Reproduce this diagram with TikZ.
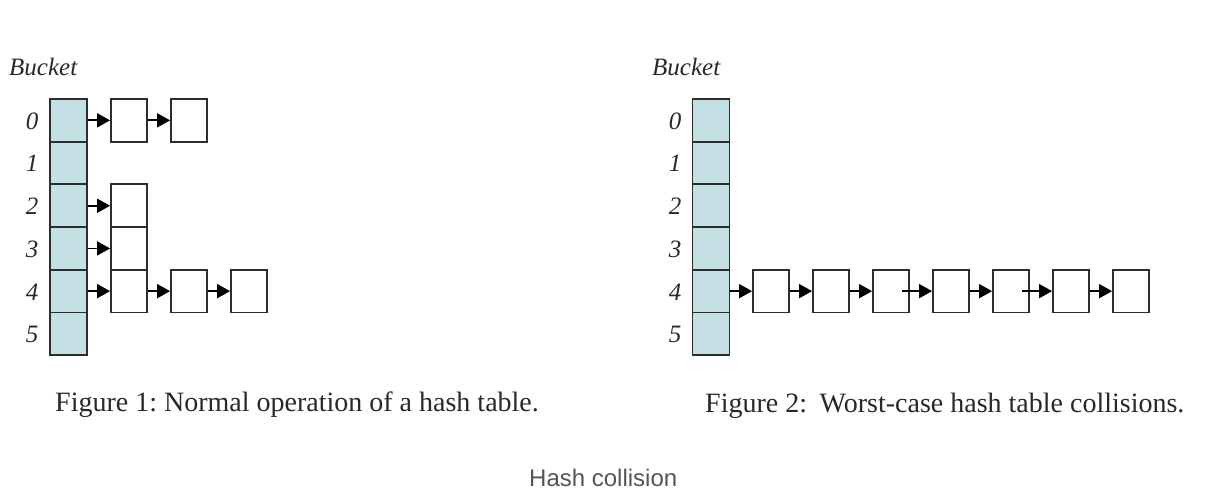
\documentclass[tikz,border=0pt]{standalone}
\usepackage{fontspec}
\setmainfont{Liberation Serif}
\newfontfamily\capsans{Liberation Sans}
\usepackage{xcolor}
\usepackage{tikz}
\usetikzlibrary{positioning,arrows.meta,calc}
\definecolor{bucketfill}{RGB}{196,224,228}
\definecolor{boxline}{RGB}{45,45,45}
\definecolor{captext}{RGB}{40,40,40}
\definecolor{titletext}{RGB}{85,85,85}
\frenchspacing

\begin{document}
\begin{tikzpicture}[x=1pt,y=-1pt]
		\tikzstyle{every node}+=[inner sep=0pt]
		\tikzstyle{slot}=[draw=boxline,line width=1.8pt,fill=bucketfill,minimum width=37pt,minimum height=42.7pt]
		\tikzstyle{entry}=[draw=boxline,line width=1.8pt,fill=white,minimum width=36pt,minimum height=42.7pt]
		\tikzstyle{index}=[font=\itshape\fontsize{25}{25}\selectfont,text=captext]
		\tikzstyle{link}=[draw=black,line width=1.7pt,-{Triangle[length=13pt,width=14pt]}]
		\useasboundingbox (0,0) rectangle (1232,502);
		\node[index,anchor=base west] (bucketL) at (9,76) {Bucket};
		\node[index,anchor=base west] (bucketR) at (652,76) {Bucket};
		\foreach \i in {0,...,5} {
			\node[slot] (L\i) at (68.5,120.35+42.7*\i) {};
			\node[index] (Ln\i) at (32,121+42.7*\i) {\i};
			\node[slot] (R\i) at (711,120.35+42.7*\i) {};
			\node[index] (Rn\i) at (675,121+42.7*\i) {\i};
		}
		\node[entry] (L0a) at (129,120.35) {};
		\node[entry] (L0b) at (189,120.35) {};
		\node[entry] (L2a) at (129,205.75) {};
		\node[entry] (L3a) at (129,248.45) {};
		\node[entry] (L4a) at (129,291.15) {};
		\node[entry] (L4b) at (189,291.15) {};
		\node[entry] (L4c) at (249,291.15) {};
		\draw[link] (L0) -- (L0a);
		\draw[link] (L0a) -- (L0b);
		\draw[link] (L2) -- (L2a);
		\draw[link] (L3) -- (L3a);
		\draw[link] (L4) -- (L4a);
		\draw[link] (L4a) -- (L4b);
		\draw[link] (L4b) -- (L4c);
		\foreach \k in {1,...,7}
			\node[entry] (C\k) at (771+60*\k-60,291.15) {};
		\draw[link] (R4) -- (C1);
		\draw[link] (C1) -- (C2);
		\draw[link] (C2) -- (C3);
		\draw[link] ([xshift=-8pt]C3.east) -- (C4);
		\draw[link] (C4) -- (C5);
		\draw[link] ([xshift=-8pt]C5.east) -- (C6);
		\draw[link] (C6) -- (C7);
		\node[anchor=base west,font=\fontsize{28}{28}\selectfont,text=captext] (cap1) at (55,412) {Figure 1: Normal operation of a hash table.};
		\node[anchor=base west,font=\fontsize{28}{28}\selectfont,text=captext] (cap2) at (705,413) {Figure 2:\hspace{0.45em}Worst-case hash table collisions.};
		\node[anchor=base west,font=\capsans\fontsize{24}{24}\selectfont,text=titletext] (title) at (529,486) {Hash collision};
	\end{tikzpicture}
\end{document}
